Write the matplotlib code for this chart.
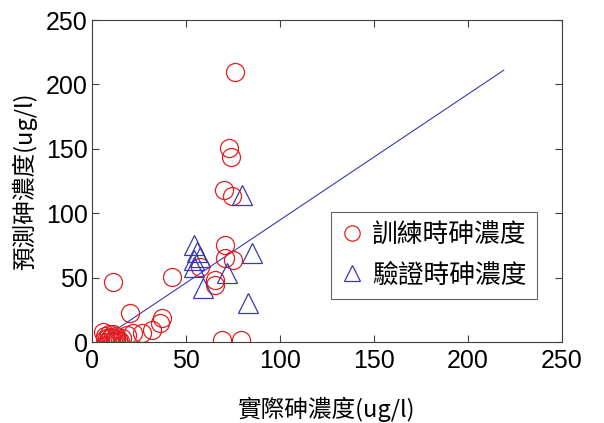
import matplotlib
matplotlib.use("Agg")
import matplotlib.pyplot as plt

# training samples (measured vs predicted arsenic, ug/l)
train_x = [76, 73, 74, 70, 74.5, 71, 71, 75, 57.5, 65.5, 65.5, 42.5, 11, 20, 37, 36,
           32, 26.5, 22, 18.6, 69, 79, 6, 7, 8, 9, 10, 11, 12, 13, 14, 9, 10, 12,
           15, 16, 8, 7, 11, 13]
train_y = [210, 151, 144, 118, 113, 75, 65, 64, 58, 48, 44, 50.5, 46.5, 22.5, 18.6, 14.7,
           9, 7, 7, 5.4, 1.5, 1.5, 8, 5, 3, 2, 4, 1, 3, 5, 2, 6, 0.5, 0,
           1, 3, 0, 2, 6, 1]

# validation samples
valid_x = [54, 56, 57.5, 54, 54, 59, 72, 85, 83, 80]
valid_y = [75, 70, 66, 64, 58, 42, 53.5, 69, 30, 114]

# fitted line end points
line_x = [3, 219]
line_y = [0, 211]

ticks = [0, 50, 100, 150, 200, 250]

CJK = ["Noto Sans CJK TC", "DejaVu Sans"]
LAT = "Liberation Sans"

red = "#e02020"
blue = "#3a3ab0"


def main():
    fig = plt.figure(figsize=(6.04, 4.23), dpi=100)
    ax = fig.add_axes([92 / 604, 1 - 342 / 423, 470 / 604, 322 / 423])

    ax.plot(line_x, line_y, color=blue, lw=0.8)
    ax.plot(train_x, train_y, "o", mfc="none", mec=red, mew=0.9, ms=13,
            label="訓練時砷濃度")
    ax.plot(valid_x, valid_y, "^", mfc="none", mec=blue, mew=0.9, ms=14,
            label="驗證時砷濃度")

    ax.set_xlim(0, 250)
    ax.set_ylim(0, 250)
    ax.set_xticks(ticks)
    ax.set_yticks(ticks)
    ax.tick_params(direction="in", length=5, top=True, right=True,
                   labelsize=18, color="#404040")
    ax.tick_params(axis="x", pad=5)
    ax.tick_params(axis="y", pad=3)
    for lab in ax.get_xticklabels() + ax.get_yticklabels():
        lab.set_fontfamily(LAT)
    for sp in ax.spines.values():
        sp.set_color("#404040")
        sp.set_linewidth(0.8)

    ax.set_xlabel("實際砷濃度(ug/l)", family=CJK, fontsize=17, labelpad=17)
    ax.set_ylabel("預測砷濃度(ug/l)", family=CJK, fontsize=17, labelpad=6)

    leg = ax.legend(loc="upper right", bbox_to_anchor=(537 / 604, 1 - 212 / 423),
                    bbox_transform=fig.transFigure, fancybox=False,
                    borderaxespad=0, edgecolor="#404040", markerscale=0.85,
                    handlelength=0.8, handletextpad=0.4, borderpad=0.4,
                    labelspacing=0.55, prop={"family": CJK, "size": 18.5})
    leg.get_frame().set_linewidth(0.8)

    plt.savefig("out.png", dpi=100)
    plt.close(fig)


if __name__ == "__main__":
    main()
